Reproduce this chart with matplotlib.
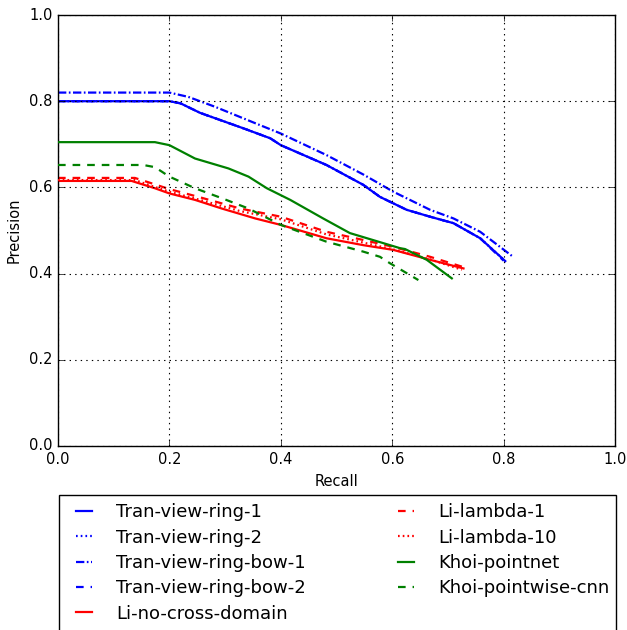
import matplotlib
matplotlib.use("Agg")
import matplotlib.pyplot as plt
from matplotlib.patches import Rectangle

# Recall / precision curves
ring1_r = [0.0, 0.2, 0.22, 0.255, 0.333, 0.381, 0.4, 0.482, 0.548, 0.578, 0.602, 0.626, 0.668, 0.71, 0.758, 0.803]
ring1_p = [0.80, 0.80, 0.795, 0.773, 0.737, 0.714, 0.698, 0.652, 0.606, 0.578, 0.563, 0.548, 0.532, 0.517, 0.482, 0.429]

ring2_r = [0.0, 0.2, 0.22, 0.255, 0.333, 0.381, 0.4, 0.482, 0.548, 0.578, 0.602, 0.626, 0.668, 0.71, 0.758, 0.803]
ring2_p = [0.80, 0.80, 0.795, 0.773, 0.737, 0.714, 0.698, 0.652, 0.606, 0.578, 0.563, 0.548, 0.532, 0.517, 0.482, 0.429]

bow1_r = [0.0, 0.2, 0.234, 0.282, 0.354, 0.4, 0.482, 0.548, 0.602, 0.668, 0.71, 0.758, 0.817]
bow1_p = [0.82, 0.82, 0.810, 0.787, 0.749, 0.725, 0.675, 0.630, 0.590, 0.548, 0.528, 0.497, 0.439]

bow2_r = [0.0, 0.2, 0.22, 0.255, 0.333, 0.381, 0.4, 0.482, 0.548, 0.578, 0.602, 0.626, 0.668, 0.71, 0.758, 0.80]
bow2_p = [0.80, 0.80, 0.795, 0.773, 0.737, 0.714, 0.698, 0.652, 0.606, 0.578, 0.563, 0.548, 0.532, 0.517, 0.482, 0.43]

li_nocd_r = [0.0, 0.132, 0.174, 0.2, 0.246, 0.294, 0.354, 0.4, 0.482, 0.548, 0.602, 0.668, 0.728]
li_nocd_p = [0.615, 0.615, 0.598, 0.586, 0.571, 0.551, 0.528, 0.513, 0.482, 0.466, 0.455, 0.432, 0.412]

li_l1_r = [0.0, 0.138, 0.174, 0.2, 0.255, 0.327, 0.4, 0.482, 0.548, 0.602, 0.668, 0.728]
li_l1_p = [0.622, 0.622, 0.607, 0.596, 0.577, 0.551, 0.532, 0.497, 0.478, 0.462, 0.439, 0.415]

li_l10_r = [0.0, 0.138, 0.174, 0.2, 0.255, 0.327, 0.4, 0.482, 0.548, 0.602, 0.668, 0.725]
li_l10_p = [0.617, 0.617, 0.601, 0.590, 0.571, 0.545, 0.526, 0.491, 0.472, 0.456, 0.433, 0.409]

khoi_pn_r = [0.0, 0.174, 0.2, 0.246, 0.306, 0.342, 0.375, 0.417, 0.476, 0.524, 0.614, 0.623, 0.662, 0.707]
khoi_pn_p = [0.705, 0.705, 0.698, 0.667, 0.644, 0.625, 0.598, 0.571, 0.528, 0.494, 0.459, 0.457, 0.432, 0.389]

khoi_cnn_r = [0.0, 0.153, 0.174, 0.2, 0.246, 0.294, 0.342, 0.4, 0.482, 0.548, 0.578, 0.596, 0.647]
khoi_cnn_p = [0.652, 0.652, 0.647, 0.625, 0.598, 0.575, 0.551, 0.513, 0.474, 0.451, 0.439, 0.424, 0.385]

solid = "-"
dotted = (0, (1.2, 2.2))
dashdot = (0, (6, 1.8, 1.2, 1.8))
dashed = (0, (5.5, 5))

# name, recall, precision, colour, style, zorder
series = [
    ("Tran-view-ring-1", ring1_r, ring1_p, "b", solid, 2.0),
    ("Tran-view-ring-2", ring2_r, ring2_p, "b", dotted, 2.1),
    ("Tran-view-ring-bow-1", bow1_r, bow1_p, "b", dashdot, 2.2),
    ("Tran-view-ring-bow-2", bow2_r, bow2_p, "b", dashed, 1.9),
    ("Li-no-cross-domain", li_nocd_r, li_nocd_p, "r", solid, 2.4),
    ("Li-lambda-1", li_l1_r, li_l1_p, "r", dashed, 2.5),
    ("Li-lambda-10", li_l10_r, li_l10_p, "r", dotted, 2.6),
    ("Khoi-pointnet", khoi_pn_r, khoi_pn_p, "g", solid, 2.7),
    ("Khoi-pointwise-cnn", khoi_cnn_r, khoi_cnn_p, "g", dashed, 2.8),
]

plt.style.use("classic")
W, H = 627, 630
fig = plt.figure(figsize=(W / 100, H / 100), dpi=100, facecolor="white")
ax = fig.add_axes([58 / W, 1 - 446 / H, (615 - 58) / W, (446 - 15) / H])

handles = []
for name, r, p, c, ls, z in series:
    h, = ax.plot(r, p, color=c, linestyle=ls, linewidth=1.6, label=name, zorder=z,
                 dash_capstyle="butt")
    handles.append(h)

ax.set_xlim(0, 1)
ax.set_ylim(0, 1)
ax.set_xticks([0, 0.2, 0.4, 0.6, 0.8, 1.0])
ax.set_yticks([0, 0.2, 0.4, 0.6, 0.8, 1.0])
ax.tick_params(labelsize=10.5)
ax.grid(True, linestyle=":", color="k", linewidth=0.8)
ax.set_xlabel("Recall", fontsize=10.5)
ax.set_ylabel("Precision", fontsize=10.5)

leg = fig.legend(handles=handles, loc="upper left", bbox_to_anchor=(62 / W, 1 - 495 / H), ncol=2,
                 fontsize=13, handlelength=1.5, handletextpad=1.05, frameon=False,
                 borderaxespad=0, borderpad=0.45, columnspacing=4.8, labelspacing=0.41)

# legend frame (runs past the bottom edge as in the reference)
fig.patches.append(Rectangle((58.5 / W, -0.05), (616 - 58.5) / W, 1 - 495 / H + 0.05,
                             transform=fig.transFigure, fill=False, edgecolor="k",
                             linewidth=1.0, zorder=5))

fig.savefig("out.png", dpi=100, facecolor="white")
